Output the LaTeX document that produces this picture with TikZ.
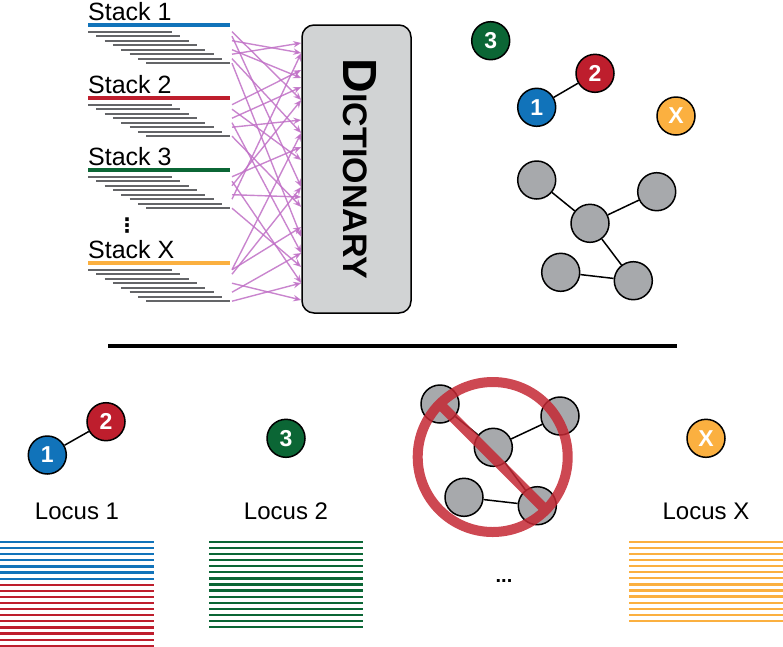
\documentclass[tikz,border=0pt]{standalone}
\usepackage{fontspec}
\setmainfont{Liberation Sans}
\newfontfamily\dotsfont{DejaVu Sans}
\usetikzlibrary{arrows.meta}

\definecolor{blueC}{RGB}{17,115,186}
\definecolor{redC}{RGB}{190,30,45}
\definecolor{greenC}{RGB}{11,102,53}
\definecolor{orangeC}{RGB}{251,176,64}
\definecolor{greyN}{RGB}{167,169,172}
\definecolor{dictC}{RGB}{209,211,212}
\definecolor{rowC}{RGB}{100,101,104}
\definecolor{feedC}{RGB}{192,112,198}
\definecolor{signC}{RGB}{196,40,52}

\tikzset{
    ball/.style={circle, draw=black, line width=1.5pt, minimum size=38pt, inner sep=0pt,
        text=white, font=\fontsize{23}{23}\selectfont\bfseries},
    greyball/.style={ball, fill=greyN},
    link/.style={black, line width=1.5pt},
    greyrow/.style={rowC, line width=2.2pt},
    readrow/.style={line width=2.2pt},
    feed/.style={feedC, line width=1.4pt, opacity=0.85, -{Stealth[length=8pt, width=6.5pt]}},
    label/.style={font=\fontsize{24}{24}\selectfont, anchor=base},
}

\begin{document}
\begin{tikzpicture}[x=1pt, y=-1pt]
    \useasboundingbox (0,0) rectangle (783,646);

    % Read stacks, one coloured line and eight staggered reads each
    \foreach \s/\top/\col in {1/25/blueC, 2/98/redC, 3/170/greenC, X/263/orangeC} {
        \node[label, font=\fontsize{25}{25}\selectfont, anchor=base west, inner sep=0pt]
            (lab\s) at (88,{\top-5}) {Stack \s};
        \draw[\col, line width=3.5pt] (88,\top) -- (230,\top);
        \foreach \i in {0,...,7} {
            \draw[greyrow] ({88+8.3*\i},{\top+6.7+4.5*\i}) -- ++(84,0);
            \coordinate (s\s-\i) at (232,{\top+6.7+4.5*\i});
        }
    }
    \node[font=\fontsize{20}{20}\selectfont\dotsfont\bfseries, inner sep=0pt]
        (stackdots) at (127,226) {⋮};

    % Dictionary
    \node[draw=black, line width=1.5pt, fill=dictC, rounded corners=12pt,
        minimum width=109pt, minimum height=288pt] (dict) at (356.5,169) {};
    \node[rotate=-90, anchor=base, font=\bfseries] (dictlabel) at (343,169)
        {{\fontsize{48}{48}\selectfont D}{\fontsize{34}{34}\selectfont ICTIONARY}};

    % Reads fed into the dictionary
    \foreach \a/\b in {s1-0/100, s1-1/187, s1-2/53, s1-4/78, s1-5/43, s1-6/133, s1-7/237,
        s2-0/70, s2-1/160, s2-3/87, s2-4/253, s2-5/120, s2-7/207,
        s3-0/147, s3-1/283, s3-2/100, s3-4/197, s3-5/53, s3-7/267,
        sX-0/133, sX-0/227, sX-1/187, sX-3/300, sX-5/253, sX-7/283} {
        \draw[feed] (\a) -- (dict.west |- 0,\b);
    }

    % Loci found in the dictionary
    \node[ball, fill=greenC] (n3top) at (490.7,40.7) {3};
    \node[ball, fill=redC] (n2top) at (595,73.3) {2};
    \node[ball, fill=blueC] (n1top) at (536.7,107.3) {1};
    \node[ball, fill=orangeC] (nXtop) at (676,116) {X};
    \draw[link] (n1top) -- (n2top);

    \node[greyball] (ga) at (536.7,180) {};
    \node[greyball] (gb) at (656.7,191.7) {};
    \node[greyball] (gc) at (590,223.3) {};
    \node[greyball] (gd) at (560.7,272.3) {};
    \node[greyball] (ge) at (633.3,280.7) {};
    \draw[link] (ga) -- (gc) (gc) -- (gb) (gc) -- (ge) (gd) -- (ge);

    % Separator
    \coordinate (sepL) at (108,346);
    \coordinate (sepR) at (677,346);
    \draw[black, line width=4pt] (sepL) -- (sepR);

    % Locus 1
    \node[ball, fill=blueC] (b1) at (47.3,455) {1};
    \node[ball, fill=redC] (b2) at (106,421.7) {2};
    \draw[link] (b1) -- (b2);
    \node[label] (locus1) at (77,519.5) {Locus 1};
    \foreach \i in {0,...,6}
        \draw[readrow, blueC] (0,{542+6.1*\i}) -- (154,{542+6.1*\i});
    \foreach \i in {7,...,17}
        \draw[readrow, redC] (0,{542+6.1*\i}) -- (154,{542+6.1*\i});

    % Locus 2
    \node[ball, fill=greenC] (b3) at (286,438.3) {3};
    \node[label] (locus2) at (286,519.5) {Locus 2};
    \foreach \i in {0,...,14}
        \draw[readrow, greenC] (209.3,{542+6.07*\i}) -- (363.3,{542+6.07*\i});

    % Rejected cluster
    \node[greyball] (ha) at (440,404) {};
    \node[greyball] (hb) at (560,416) {};
    \node[greyball] (hc) at (493.3,447.3) {};
    \node[greyball] (hd) at (464,497.3) {};
    \node[greyball] (he) at (537.3,505.7) {};
    \draw[link] (ha) -- (hc) (hc) -- (hb) (hc) -- (he) (hd) -- (he);
    \coordinate (sign) at (492.7,457);
    \draw[signC, line width=10pt, opacity=0.85]
        (sign) circle[radius=75pt] (sign) ++(-53,-53) -- ++(106,106);
    \node[font=\fontsize{20}{20}\selectfont\bfseries, anchor=base] (moreloci) at (504,582) {...};

    % Locus X
    \node[ball, fill=orangeC] (bX) at (706,438.3) {X};
    \node[label] (locusX) at (706,519.5) {Locus X};
    \foreach \i in {0,...,13}
        \draw[readrow, orangeC] (629,{542+6.06*\i}) -- (783,{542+6.06*\i});
\end{tikzpicture}
\end{document}
